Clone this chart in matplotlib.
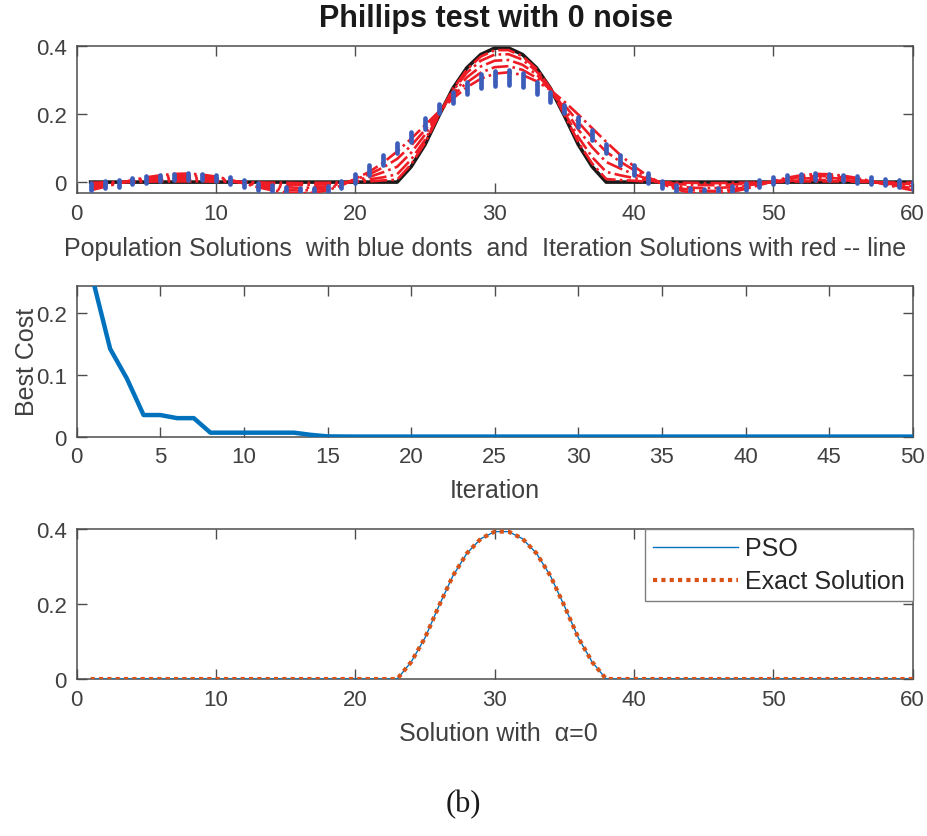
import matplotlib
matplotlib.use("Agg")
import matplotlib.pyplot as plt
import numpy as np

plt.rcParams['font.family'] = ['Liberation Sans', 'DejaVu Sans']

# ---------------- data ----------------
idx = list(range(1, 61))

exact = [0, 0, 0, 0, 0, 0, 0, 0, 0, 0,
         0, 0, 0, 0, 0, 0, 0, 0, 0, 0,
         0, 0, 0, 0.045, 0.110, 0.195, 0.275, 0.335, 0.374, 0.393,
         0.393, 0.374, 0.335, 0.275, 0.195, 0.110, 0.045, 0, 0, 0,
         0, 0, 0, 0, 0, 0, 0, 0, 0, 0,
         0, 0, 0, 0, 0, 0, 0, 0, 0, 0]

pso = [0, 0, 0, 0, 0, 0, 0, 0, 0, 0,
       0, 0, 0, 0, 0, 0, 0, 0, 0, 0,
       0, 0, 0, 0.045, 0.110, 0.195, 0.275, 0.335, 0.374, 0.393,
       0.393, 0.374, 0.335, 0.275, 0.195, 0.110, 0.045, 0, 0, 0,
       0, 0, 0, 0, 0, 0, 0, 0, 0, 0,
       0, 0, 0, 0, 0, 0, 0, 0, 0, 0]

iter_sol_1 = [-0.024, -0.014, -0.004, 0.006, 0.014, 0.020, 0.024, 0.025, 0.022, 0.016,
              0.007, -0.004, -0.015, -0.024, -0.030, -0.033, -0.031, -0.024, -0.010, 0.010,
              0.030, 0.057, 0.090, 0.127, 0.167, 0.207, 0.245, 0.278, 0.303, 0.318,
              0.322, 0.314, 0.296, 0.270, 0.236, 0.198, 0.158, 0.118, 0.080, 0.046,
              0.018, -0.005, -0.021, -0.031, -0.035, -0.034, -0.029, -0.020, -0.009, 0.003,
              0.013, 0.020, 0.024, 0.023, 0.019, 0.012, 0.003, -0.007, -0.016, -0.024]

iter_sol_2 = [-0.018, -0.011, -0.003, 0.005, 0.011, 0.015, 0.018, 0.019, 0.017, 0.012,
              0.005, -0.003, -0.011, -0.018, -0.023, -0.025, -0.023, -0.018, -0.008, 0.008,
              0.023, 0.043, 0.068, 0.107, 0.153, 0.204, 0.253, 0.292, 0.321, 0.337,
              0.340, 0.329, 0.306, 0.271, 0.226, 0.176, 0.130, 0.089, 0.060, 0.035,
              0.014, -0.004, -0.016, -0.023, -0.026, -0.026, -0.022, -0.015, -0.007, 0.002,
              0.010, 0.015, 0.018, 0.017, 0.014, 0.009, 0.002, -0.005, -0.012, -0.018]

iter_sol_3 = [-0.012, -0.007, -0.002, 0.003, 0.007, 0.010, 0.012, 0.013, 0.011, 0.008,
              0.004, -0.002, -0.008, -0.012, -0.015, -0.017, -0.016, -0.012, -0.005, 0.005,
              0.015, 0.029, 0.045, 0.086, 0.139, 0.201, 0.260, 0.307, 0.339, 0.356,
              0.358, 0.344, 0.316, 0.273, 0.216, 0.154, 0.102, 0.059, 0.040, 0.023,
              0.009, -0.003, -0.011, -0.016, -0.018, -0.017, -0.015, -0.010, -0.005, 0.002,
              0.007, 0.010, 0.012, 0.012, 0.010, 0.006, 0.002, -0.004, -0.008, -0.012]

iter_sol_4 = [-0.006, -0.004, -0.001, 0.002, 0.004, 0.005, 0.006, 0.006, 0.006, 0.004,
              0.002, -0.001, -0.004, -0.006, -0.008, -0.008, -0.008, -0.006, -0.003, 0.003,
              0.008, 0.014, 0.023, 0.066, 0.124, 0.198, 0.267, 0.321, 0.356, 0.374,
              0.375, 0.359, 0.325, 0.274, 0.205, 0.132, 0.073, 0.030, 0.020, 0.012,
              0.005, -0.001, -0.005, -0.008, -0.009, -0.009, -0.007, -0.005, -0.002, 0.001,
              0.003, 0.005, 0.006, 0.006, 0.005, 0.003, 0.001, -0.002, -0.004, -0.006]

iter_sol_5 = [-0.002, -0.001, 0.000, 0.000, 0.001, 0.002, 0.002, 0.002, 0.002, 0.001,
              0.001, 0.000, -0.001, -0.002, -0.002, -0.003, -0.002, -0.002, -0.001, 0.001,
              0.002, 0.005, 0.007, 0.052, 0.115, 0.196, 0.273, 0.330, 0.368, 0.387,
              0.387, 0.369, 0.332, 0.275, 0.198, 0.117, 0.054, 0.009, 0.006, 0.004,
              0.001, 0.000, -0.002, -0.002, -0.003, -0.003, -0.002, -0.002, -0.001, 0.000,
              0.001, 0.002, 0.002, 0.002, 0.002, 0.001, 0.000, -0.001, -0.001, -0.002]

pop_center = [-0.012, -0.008, -0.003, 0.003, 0.008, 0.012, 0.015, 0.016, 0.015, 0.012,
              0.005, -0.004, -0.012, -0.019, -0.024, -0.027, -0.027, -0.021, -0.008, 0.011,
              0.036, 0.064, 0.100, 0.133, 0.172, 0.216, 0.248, 0.275, 0.296, 0.304,
              0.306, 0.299, 0.276, 0.250, 0.215, 0.177, 0.138, 0.099, 0.064, 0.036,
              0.012, -0.007, -0.020, -0.027, -0.029, -0.027, -0.021, -0.013, -0.004, 0.005,
              0.011, 0.014, 0.016, 0.015, 0.012, 0.008, 0.004, 0.000, -0.004, -0.009]

pop_spread = [0.010, 0.010, 0.010, 0.010, 0.010, 0.010, 0.010, 0.010, 0.010, 0.010,
              0.010, 0.010, 0.010, 0.010, 0.010, 0.010, 0.010, 0.010, 0.010, 0.014,
              0.014, 0.014, 0.014, 0.015, 0.015, 0.012, 0.015, 0.018, 0.020, 0.022,
              0.022, 0.020, 0.018, 0.015, 0.012, 0.015, 0.015, 0.014, 0.014, 0.014,
              0.014, 0.010, 0.010, 0.010, 0.010, 0.010, 0.010, 0.010, 0.010, 0.010,
              0.010, 0.010, 0.010, 0.010, 0.010, 0.010, 0.010, 0.010, 0.010, 0.010]

iterations = list(range(1, 51))
best_cost = [0.250, 0.142, 0.094, 0.035, 0.035, 0.030, 0.030, 0.0065, 0.0065, 0.0065,
             0.0065, 0.0065, 0.0065, 0.003, 0.0005, 0.0003, 0.0002, 0.0002, 0.0002, 0.0002,
             0.0002, 0.0002, 0.0002, 0.0002, 0.0002, 0.0002, 0.0002, 0.0002, 0.0002, 0.0002,
             0.0002, 0.0002, 0.0002, 0.0002, 0.0002, 0.0002, 0.0002, 0.0002, 0.0002, 0.0002,
             0.0002, 0.0002, 0.0002, 0.0002, 0.0002, 0.0002, 0.0002, 0.0002, 0.0002, 0.0002]

# ---------------- style ----------------
TXT = '#404040'
AX = '#4d4d4d'
TICK_FS = 16
LAB_FS = 18

fig = plt.figure(figsize=(9.27, 8.37), dpi=100)
W, H = 927.0, 837.0

def px_axes(left, top, right, bottom):
    return fig.add_axes([left / W, 1 - bottom / H, (right - left) / W, (bottom - top) / H])

def style(ax):
    for s in ax.spines.values():
        s.set_color(AX)
        s.set_linewidth(1.1)
    ax.tick_params(direction='in', length=7, width=1, colors=AX, labelcolor=TXT,
                   labelsize=TICK_FS, top=True, right=True, pad=7)

ax1 = px_axes(76.7, 46.7, 912.7, 194.0)
ax2 = px_axes(76.7, 287.3, 912.7, 437.7)
ax3 = px_axes(76.7, 530.0, 912.7, 680.0)

# ---- top panel ----
ax1.plot(idx, exact, color='#1a1a1a', lw=2.6, zorder=2)
for sol in [iter_sol_1, iter_sol_2, iter_sol_3, iter_sol_4, iter_sol_5]:
    ax1.plot(idx, sol, color='#ee1c25', lw=1.9, ls='-.', zorder=3)
pc = np.array(pop_center)
ps = np.array(pop_spread)
vl = ax1.vlines(idx, pc - ps, pc + ps, color='#3d5dbb', lw=3.4, zorder=4)
vl.set_capstyle('round')
ax1.set_xlim(0, 60)
ax1.set_ylim(-0.032, 0.4)
ax1.set_xticks(range(0, 61, 10))
ax1.set_yticks([0, 0.2, 0.4])
ax1.set_yticklabels(['0', '0.2', '0.4'])
style(ax1)

# ---- middle panel ----
ax2.plot(iterations, best_cost, color='#0072BD', lw=3.2, zorder=3)
ax2.set_xlim(0, 50)
ax2.set_ylim(0, 0.243)
ax2.set_xticks(range(0, 51, 5))
ax2.set_yticks([0, 0.1, 0.2])
ax2.set_yticklabels(['0', '0.1', '0.2'])
style(ax2)

# ---- bottom panel ----
ax3.plot(idx, pso, color='#0072BD', lw=1.0, label='PSO', zorder=3)
ax3.plot(idx, exact, color='#D95319', lw=3.0, ls=(0, (1, 1)), label='Exact Solution', zorder=4)
ax3.set_xlim(0, 60)
ax3.set_ylim(0, 0.4)
ax3.set_xticks(range(0, 61, 10))
ax3.set_yticks([0, 0.2, 0.4])
ax3.set_yticklabels(['0', '0.2', '0.4'])
style(ax3)
leg = ax3.legend(loc='upper right', bbox_to_anchor=(1.0, 1.0), borderaxespad=0,
                 fontsize=LAB_FS, frameon=True, fancybox=False, framealpha=1,
                 edgecolor='#7f7f7f', handlelength=3.4, handletextpad=0.3,
                 borderpad=0.3, labelspacing=0.35)
leg.get_frame().set_linewidth(1.0)
for t in leg.get_texts():
    t.set_color('#262626')

# ---- texts ----
cx = (76.7 + 912.7) / 2
fig.text(496 / W, 1 - 19 / H, 'Phillips test with 0 noise', ha='center', va='center',
         fontsize=22, fontweight='bold', color='#1a1a1a')
fig.text(485 / W, 1 - 249 / H,
         'Population Solutions  with blue donts  and  Iteration Solutions with red -- line',
         ha='center', va='center', fontsize=LAB_FS, color=TXT)
fig.text(cx / W, 1 - 491 / H, 'Iteration', ha='center', va='center', fontsize=LAB_FS, color=TXT)
fig.text(27 / W, 1 - 362 / H, 'Best Cost', ha='center', va='center', rotation=90,
         fontsize=LAB_FS, color=TXT)
fig.text(498 / W, 1 - 734 / H, 'Solution with  α=0', ha='center', va='center',
         fontsize=LAB_FS, color=TXT)
fig.text(463 / W, 1 - 805 / H, '(b)', ha='center', va='center', fontsize=22,
         family='Liberation Serif', color='#1a1a1a')

fig.savefig('out.png', dpi=100)
